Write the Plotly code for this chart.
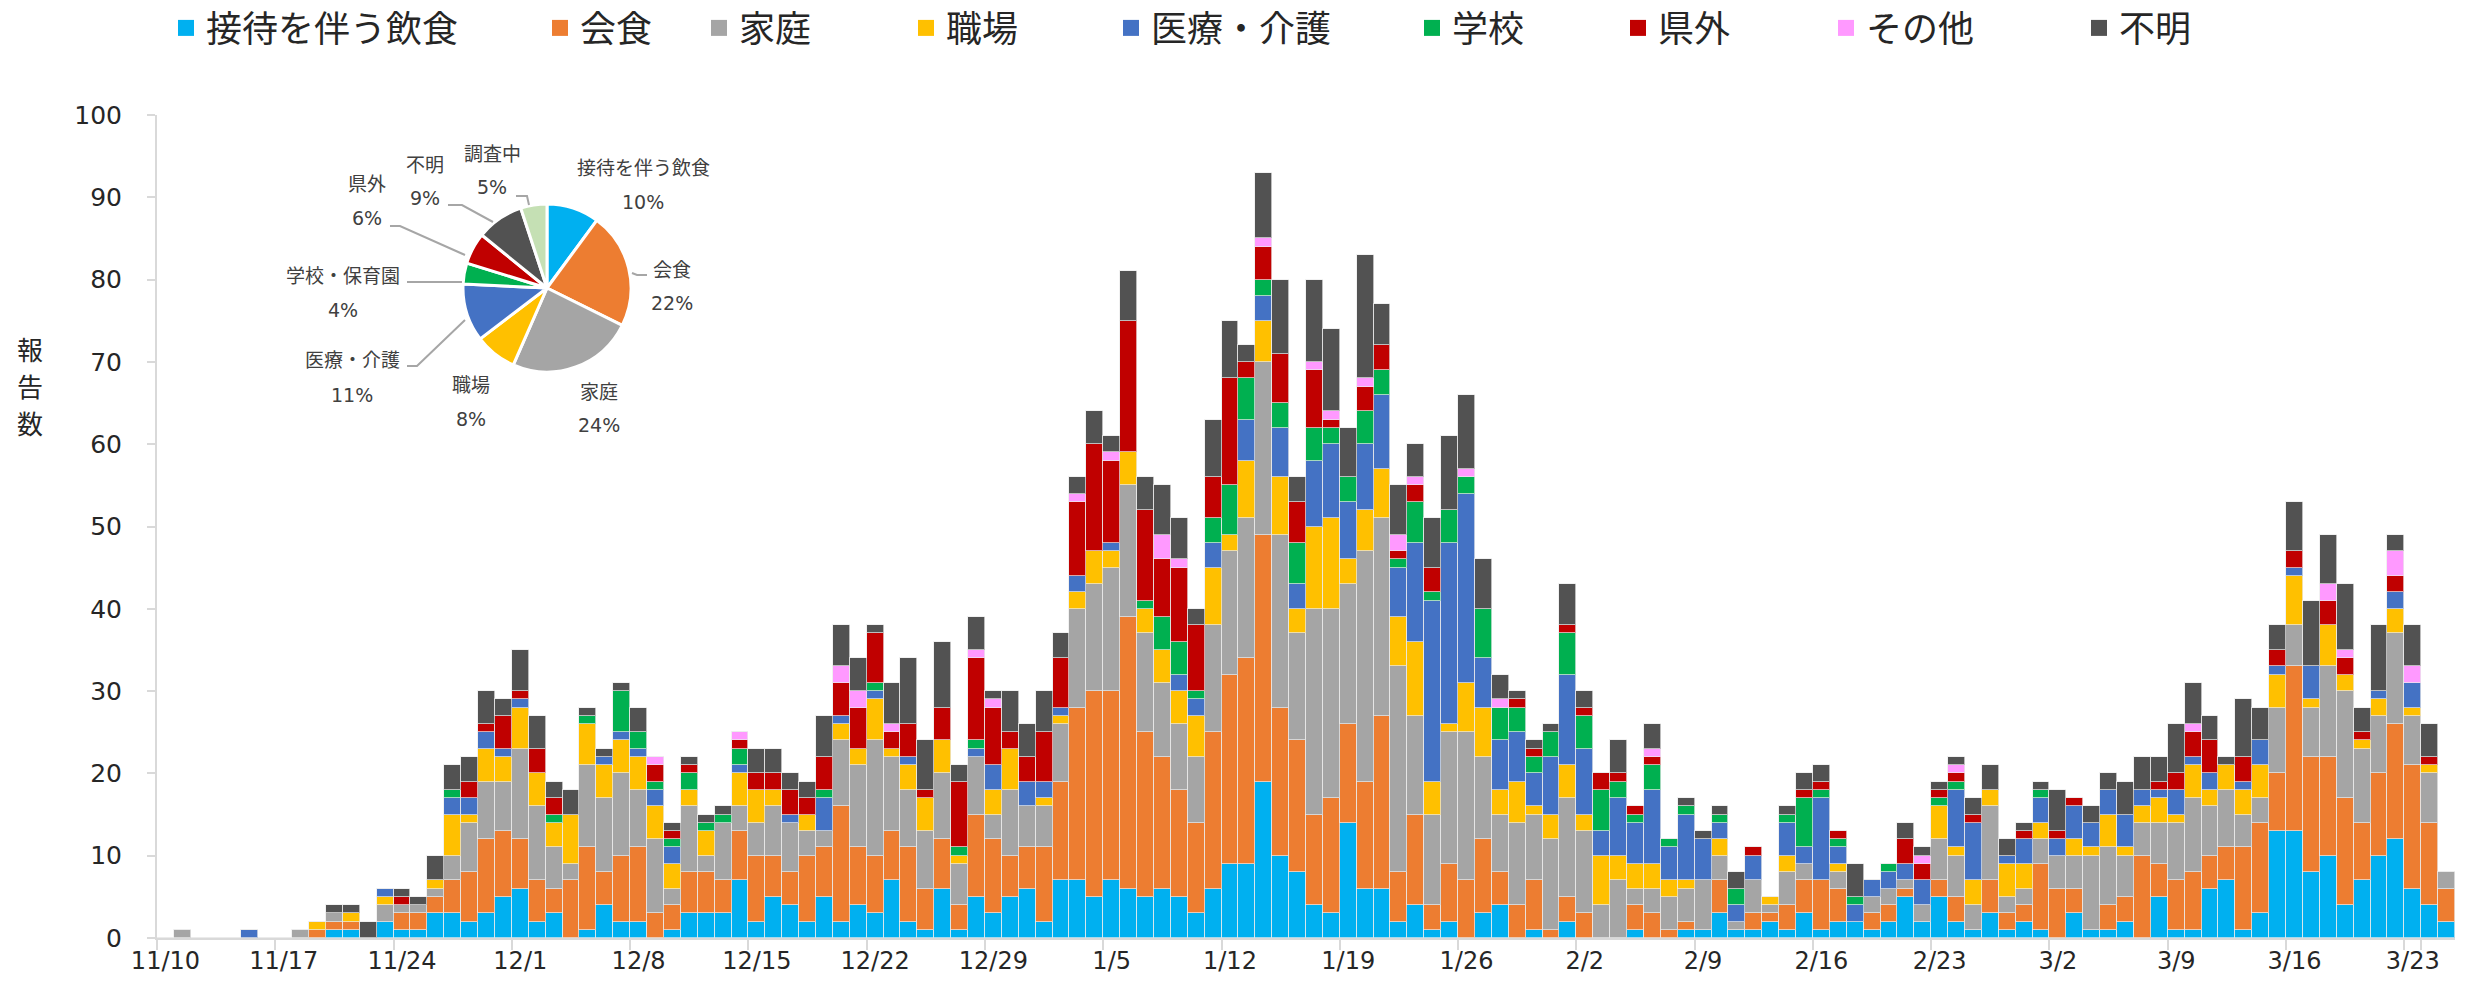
import plotly.graph_objects as go
import pandas as pd

# ---------------- data ----------------
dates = pd.date_range("2020-11-10", "2021-03-25", freq="D")
days = [f"{d.month}/{d.day}" for d in dates]
tick_days = days[::7]

settai = [0,0,0,0,0,0,0,0,0,0, 1,1,0,2,1,1,3,3,2,3, 5,6,2,3,0,1,4,2,2,0,
          1,3,3,3,7,2,5,4,2,5, 2,4,3,7,2,1,6,1,5,3, 5,6,2,7,7,5,7,6,5,6,
          5,3,6,9,9,19,10,8,4,3, 14,6,6,2,4,1,2,0,3,4, 0,1,0,2,0,0,0,1,0,0,
          1,1,3,1,1,2,1,3,1,2, 2,1,2,5,2,5,2,1,3,1, 2,1,0,3,1,1,2,0,5,1,
          1,6,7,1,3,13,13,8,10,4, 7,10,12,6,4,2]
kaishoku = [0,0,0,0,0,0,0,0,0,1, 1,1,0,0,2,2,2,4,6,9, 8,6,5,3,7,10,4,8,9,3,
            3,5,5,4,6,8,5,4,8,6, 14,7,7,6,9,5,6,3,10,9, 5,5,9,12,21,25,23,33,20,16,
            13,11,19,23,25,30,18,16,11,14, 12,13,21,6,11,3,7,7,9,4, 4,6,1,3,3,0,0,3,3,1,
            1,0,4,0,2,1,3,4,6,4, 0,2,2,1,0,2,3,0,4,2, 2,8,6,3,0,3,3,10,4,6,
            7,4,4,10,11,7,20,14,12,13, 7,10,14,15,10,4]
katei = [0,1,0,0,0,0,0,0,1,0, 1,0,0,2,1,1,1,3,6,7, 6,11,9,5,2,10,9,10,7,9,
         2,8,2,7,3,4,6,6,3,2, 8,10,14,9,7,7,8,5,7,3, 8,5,5,7,12,13,15,16,12,9,
         8,8,13,15,17,21,21,13,25,23, 17,28,24,25,12,11,16,18,10,7, 10,8,11,12,10,4,7,2,3,4,
         4,6,3,1,4,1,4,2,0,2, 0,2,2,1,2,5,5,3,9,2, 2,3,4,4,9,7,5,4,5,7,
         9,6,7,4,3,8,5,6,11,13, 9,7,11,6,6,2]
shokuba = [0,0,0,0,0,0,0,0,0,1, 0,1,0,1,0,0,1,5,1,4, 3,5,4,3,6,5,4,4,4,4,
           3,2,3,0,4,4,2,0,2,0, 2,2,5,1,3,4,4,1,0,3, 5,0,1,1,2,4,2,4,3,4,
           4,5,7,2,7,5,7,3,10,11, 3,5,6,6,9,4,1,6,6,3, 5,1,3,4,2,6,3,3,3,2,
           1,0,2,0,0,1,2,0,0,1, 0,0,0,0,0,4,1,3,2,4, 3,2,0,2,1,4,1,2,3,1,
           4,2,3,3,4,4,6,1,5,2, 1,2,3,1,1,0]
iryo = [0,0,0,0,0,1,0,0,0,0, 0,0,0,1,0,0,0,2,2,2, 1,1,0,0,0,0,1,1,1,2,
        2,0,0,0,1,0,0,1,0,4, 1,0,1,0,1,0,0,0,1,3, 0,3,2,1,2,0,1,0,0,0,
        2,2,3,0,5,3,6,3,8,9, 7,8,9,6,12,22,22,23,6,6, 6,4,7,11,8,3,7,5,9,4,
        8,5,2,2,3,0,4,2,10,2, 2,2,2,2,3,0,7,7,0,1, 3,3,2,4,3,3,4,2,1,3,
        1,2,0,1,3,1,1,4,0,0, 0,1,2,3,0,0]
gakko = [0,0,0,0,0,0,0,0,0,0, 0,0,0,0,0,0,0,1,0,0, 0,0,0,1,0,1,0,5,2,1,
         1,2,1,1,2,0,0,0,0,1, 0,0,1,0,0,0,0,1,1,0, 0,0,0,0,0,0,0,0,1,4,
         4,1,3,6,5,2,3,5,4,2, 3,4,3,1,5,1,4,2,6,4, 3,2,3,5,4,5,2,1,3,1,
         1,0,1,2,0,0,1,6,1,1, 1,0,1,0,0,1,1,0,0,0, 0,1,0,0,0,0,0,0,0,0,
         0,0,0,0,0,0,0,0,0,0, 0,0,0,0,0,0]
kengai = [0,0,0,0,0,0,0,0,0,0, 0,0,0,0,1,0,0,0,2,1, 4,1,3,2,0,0,0,0,0,2,
          1,1,0,0,1,2,2,3,2,4, 4,5,6,2,4,1,4,8,10,7, 2,3,6,6,9,13,10,16,11,7,
          9,8,5,13,2,4,6,5,7,1, 0,3,3,1,2,3,0,0,0,0, 1,1,0,1,1,2,1,1,1,0,
          0,0,0,0,1,0,0,1,1,1, 0,0,0,3,2,1,1,1,0,0, 1,0,1,1,0,0,0,0,1,2,
          3,4,0,3,0,2,2,0,3,2, 1,0,2,0,1,0]
sonota = [0,0,0,0,0,0,0,0,0,0, 0,0,0,0,0,0,0,0,0,0, 0,0,0,0,0,0,0,0,0,1,
          0,0,0,0,1,0,0,0,0,0, 2,2,0,1,0,0,0,0,1,1, 0,0,0,0,1,0,1,0,0,3,
          1,0,0,0,0,1,0,0,1,1, 0,1,0,2,1,0,0,1,0,1, 0,0,0,0,0,0,0,0,1,0,
          0,0,0,0,0,0,0,0,0,0, 0,0,0,0,1,0,1,0,0,0, 0,0,0,0,0,0,0,0,0,0,
          1,0,0,0,0,0,0,0,2,1, 0,0,3,2,0,0]
fumei = [0,0,0,0,0,0,0,0,0,0, 1,1,2,0,1,1,3,3,3,4, 2,5,4,2,3,1,1,1,3,0,
         1,1,1,1,0,3,3,2,2,5, 5,4,1,5,8,6,8,2,4,1, 5,4,5,3,2,4,2,6,4,6,
         5,2,7,7,2,8,9,3,10,10, 6,15,5,6,4,6,9,9,6,3, 1,1,1,5,2,0,4,0,3,0,
         1,1,1,2,0,0,1,2,2,0, 4,0,0,2,1,1,1,2,3,2, 1,1,5,0,2,2,4,4,3,6,
         5,3,1,7,4,3,6,8,6,8, 3,8,2,5,4,0]

series_names = ["接待を伴う飲食", "会食", "家庭", "職場", "医療・介護", "学校", "県外", "その他", "不明"]
series_values = [settai, kaishoku, katei, shokuba, iryo, gakko, kengai, sonota, fumei]
series_colors = ["#00B0F0", "#ED7D31", "#A5A5A5", "#FFC000", "#4472C4", "#00B050", "#C00000", "#FF99FF", "#525252"]

pie_labels = ["接待を伴う飲食", "会食", "家庭", "職場", "医療・介護", "学校・保育園", "県外", "不明", "調査中"]
pie_values = [10, 22, 24, 8, 11, 4, 6, 9, 5]
pie_colors = ["#00B0F0", "#ED7D31", "#A5A5A5", "#FFC000", "#4472C4", "#00B050", "#C00000", "#525252", "#C5E0B4"]

# ---------------- layout geometry ----------------
W, H = 2469, 997
ML, MR, MT, MB = 157, 14, 115, 59
PW, PH = W - ML - MR, H - MT - MB


def px(x):
    return (x - ML) / PW


def py(y):
    return (H - MB - y) / PH


FONT = "DejaVu Sans, Noto Sans CJK JP, sans-serif"
JFONT = "Noto Sans CJK JP, sans-serif"

fig = go.Figure()
for n, v, c in zip(series_names, series_values, series_colors):
    fig.add_trace(go.Bar(x=days, y=v, name=n, showlegend=False,
                         marker=dict(color=c, line=dict(width=1, color="rgba(235,235,235,0.7)"))))

# legend: one legend box per entry, spread across the top like the original
legend_centers = [187, 561, 720, 927, 1132, 1433, 1639, 1847, 2100]
legend_layout = {}
for i, (n, c, lx) in enumerate(zip(series_names, series_colors, legend_centers)):
    key = "legend" if i == 0 else f"legend{i + 1}"
    fig.add_trace(go.Scatter(x=[None], y=[None], mode="markers", name=n, legend=key,
                             marker=dict(symbol="square", size=22, color=c)))
    legend_layout[key] = dict(orientation="h", xref="container", yref="container",
                              x=(lx - 21) / W, xanchor="left", y=1 - 28 / H, yanchor="middle",
                              font=dict(family=JFONT, size=36, color="#262626"), itemsizing="trace",
                              bgcolor="rgba(0,0,0,0)", itemwidth=30)

# pie inset
cx, cy, r = 547, 288, 84
fig.add_trace(go.Pie(labels=pie_labels, values=pie_values, sort=False, direction="clockwise",
                     rotation=0, textinfo="none", showlegend=False,
                     marker=dict(colors=pie_colors, line=dict(color="white", width=3)),
                     domain=dict(x=[px(cx - r), px(cx + r)], y=[py(cy + r), py(cy - r)])))

# pie labels (name, pct) positions in pixels
pie_label_pos = [(643, 167, 202), (672, 268, 303), (599, 390, 425), (471, 383, 419),
                 (352, 358, 395), (343, 275, 310), (367, 182, 218), (425, 163, 198), (492, 152, 187)]
annotations = []
for lab, val, (lx, ly1, ly2) in zip(pie_labels, pie_values, pie_label_pos):
    annotations.append(dict(x=px(lx), y=py(ly1), xref="paper", yref="paper", text=lab, showarrow=False,
                            font=dict(family=JFONT, size=19, color="#404040"), xanchor="center", yanchor="middle"))
    annotations.append(dict(x=px(lx), y=py(ly2), xref="paper", yref="paper", text=f"{val}%", showarrow=False,
                            font=dict(family=FONT, size=19, color="#404040"), xanchor="center", yanchor="middle"))

# y title, stacked characters
for ch, yy in zip("報告数", [348, 385, 422]):
    annotations.append(dict(x=px(30), y=py(yy), xref="paper", yref="paper", text=ch, showarrow=False,
                            font=dict(family=JFONT, size=26, color="#262626"), xanchor="center", yanchor="middle"))

leaders = [
    [(516, 196), (527, 196), (529, 205)],
    [(448, 205), (462, 205), (493, 222)],
    [(390, 226), (400, 226), (465, 255)],
    [(407, 282), (462, 282)],
    [(407, 366), (417, 366), (465, 320)],
    [(632, 273), (637, 275), (647, 275)],
]
shapes = []
for pts in leaders:
    path = "M " + " L ".join(f"{px(a):.5f},{py(b):.5f}" for a, b in pts)
    shapes.append(dict(type="path", path=path, xref="paper", yref="paper",
                       line=dict(color="#A6A6A6", width=2)))

fig.update_layout(
    width=W, height=H, autosize=False,
    margin=dict(l=ML, r=MR, t=MT, b=MB, pad=0, autoexpand=False),
    paper_bgcolor="white", plot_bgcolor="white",
    barmode="stack", bargap=0,
    font=dict(family=FONT, color="#262626"),
    annotations=annotations, shapes=shapes,
    xaxis=dict(type="category", categoryorder="array", categoryarray=days,
               range=[-0.5, len(days) - 0.5], tickmode="array", tickvals=tick_days, ticktext=tick_days,
               tickson="boundaries", ticks="outside", ticklen=10, tickwidth=2, tickcolor="#D9D9D9",
               tickangle=0, showline=True, linecolor="#D9D9D9", linewidth=2, showgrid=False,
               tickfont=dict(size=24, color="#262626"), fixedrange=True, automargin=False),
    yaxis=dict(range=[0, 100], tickmode="linear", dtick=10, ticks="outside", ticklen=8, tickwidth=2,
               tickcolor="#D9D9D9", showline=True, linecolor="#D9D9D9", linewidth=2, showgrid=False,
               zeroline=False, tickfont=dict(size=25, color="#262626"), ticklabelstandoff=20,
               fixedrange=True, automargin=False),
    **legend_layout,
)

fig.write_html("out.html", config={"displayModeBar": False},
               post_script="document.body.style.margin='0';document.body.style.overflow='hidden';")
